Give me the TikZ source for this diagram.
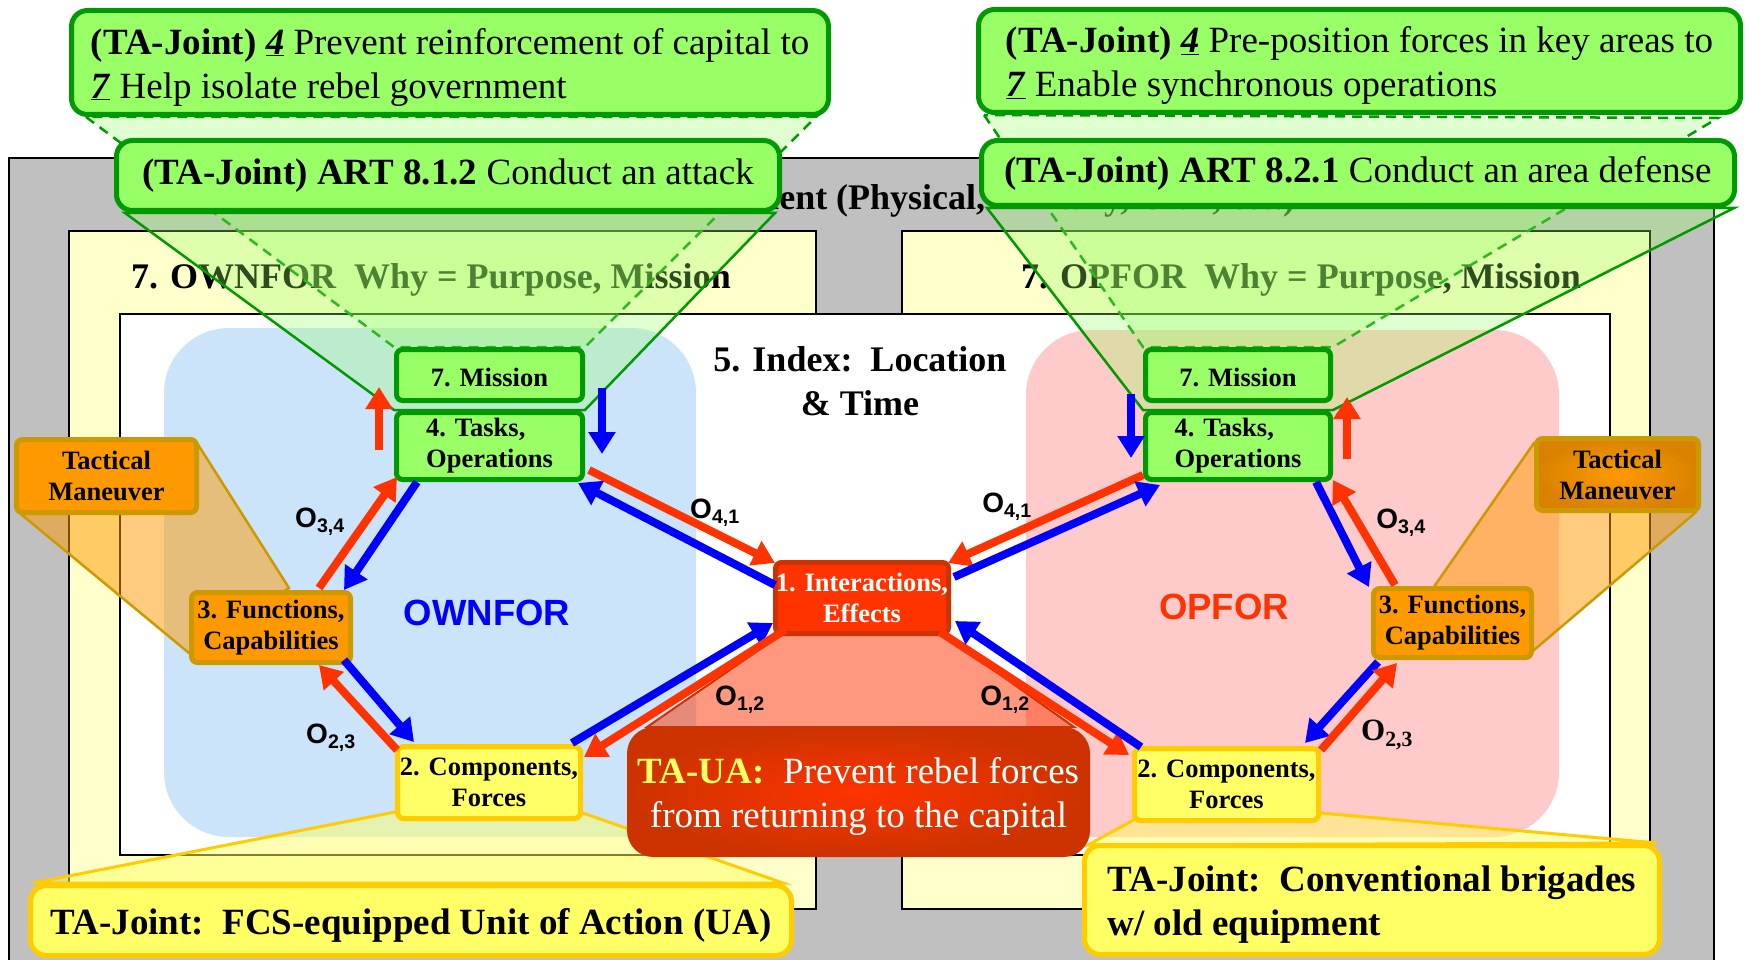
\documentclass[tikz,border=0pt]{standalone}
\usepackage{fontspec}
\setmainfont{Liberation Serif}
\setsansfont{Liberation Sans}
\usetikzlibrary{
    arrows.meta,
    calc
}
\definecolor{envgray}{HTML}{C0C0C0}
\definecolor{panelyellow}{HTML}{FFFFCC}
\definecolor{ownforblue}{HTML}{CCE4FA}
\definecolor{opforpink}{HTML}{FFCACA}
\definecolor{boxgreen}{HTML}{99FF66}
\definecolor{boxgreenline}{HTML}{009900}
\definecolor{boxorange}{HTML}{FF9900}
\definecolor{boxorangeline}{HTML}{CC9900}
\definecolor{boxorangedark}{HTML}{D98200}
\definecolor{boxyellow}{HTML}{FFFF66}
\definecolor{boxyellowline}{HTML}{FFCC00}
\definecolor{boxred}{HTML}{FF3300}
\definecolor{boxredline}{HTML}{CC3300}
\definecolor{arrowred}{HTML}{FF3300}
\definecolor{arrowblue}{HTML}{0000FF}

\newcommand{\nodetextfont}{\fontsize{26.5}{31}\selectfont\bfseries}
\newcommand{\callouttextfont}{\fontsize{37}{44}\selectfont}
\newcommand{\paneltitlefont}{\fontsize{36}{44}\selectfont\bfseries}
\newcommand{\forcefont}{\fontsize{36.5}{40}\selectfont\sffamily\bfseries}
\newcommand{\flowfont}{\fontsize{28}{30}\selectfont\sffamily\bfseries}
\newcommand{\purposenum}[1]{\underline{\textbf{\textit{#1}}}}
\newcommand{\lowerstrut}{\rule{0pt}{35.5pt}}

\pgfdeclarelayer{back}
\pgfdeclarelayer{shade}
\pgfsetlayers{back,shade,main}

\tikzset{
    % Frames
    env frame/.style={draw=black, fill=envgray, line width=1.5pt},
    panel/.style={draw=black, fill=panelyellow, line width=1.5pt},
    inner frame/.style={draw=black, fill=white, line width=1.5pt},
    %
    % Boxes
    base box/.style={rectangle, rounded corners=6pt, line width=5pt, inner sep=0pt, align=center, font=\nodetextfont},
    green box/.style={base box, draw=boxgreenline, fill=boxgreen},
    orange box/.style={base box, draw=boxorangeline, fill=boxorange},
    yellow box/.style={base box, draw=boxyellowline, fill=boxyellow},
    red box/.style={base box, draw=boxredline, fill=boxred, text=white},
    note box/.style={rounded corners=16pt, font=\callouttextfont},
    mission box/.style={green box, minimum height=51pt, text height=23.5pt, text depth=0pt},
    %
    % Projections
    green shade/.style={fill=boxgreen, fill opacity=.3, draw=boxgreenline, line width=2.5pt},
    green dash shade/.style={green shade, dash pattern=on 10pt off 7pt},
    orange shade/.style={fill=boxorange, fill opacity=.5, draw=boxorangeline, line width=2.5pt},
    yellow shade/.style={fill=boxyellow, fill opacity=.5, draw=boxyellowline, line width=3pt},
    red shade/.style={fill=boxred, fill opacity=.5, draw=boxredline, line width=2pt},
    %
    % Arrows
    arrow tip/.tip={Triangle[length=22pt, width=26pt]},
    red arr/.style={-{arrow tip}, line width=8pt, draw=arrowred},
    blue arr/.style={-{arrow tip}, line width=8pt, draw=arrowblue},
    %
    flow label/.style={font=\flowfont, inner sep=0pt}
}

\begin{document}
\begin{tikzpicture}[x=1pt, y=-1pt]
    \useasboundingbox (0,0) rectangle (1745,960);

    \begin{pgfonlayer}{back}
        \fill[white] (0,0) rectangle (1745,960);
        \draw[env frame] (9,158) rectangle (1714,975);
        \node[anchor=base, font=\paneltitlefont] (envtitle) at (940,210) {6. Environment (Physical, Military, Civil, etc.)};
        \draw[panel] (69,231) rectangle (816,909);
        \draw[panel] (902,231) rectangle (1650,909);
        \node[anchor=base, font=\paneltitlefont] (ownwhy) at (431,288) {7. OWNFOR\ \ Why = Purpose, Mission};
        \node[anchor=base, font=\paneltitlefont] (opwhy) at (1301,288) {7. OPFOR\ \ Why = Purpose, Mission};
        \draw[inner frame] (120,314) rectangle (1610,855);
        \fill[ownforblue, rounded corners=65pt] (164,328) rectangle (696,837);
        \fill[opforpink, rounded corners=65pt] (1026,330) rectangle (1559,837);
        \node[align=center, font=\paneltitlefont] (index) at (860,381) {5. Index:\ \ Location\\\& Time};
        \node[font=\forcefont, text=arrowblue] (ownfor) at (487,613) {OWNFOR};
        \node[font=\forcefont, text=arrowred] (opfor) at (1224,607) {OPFOR};
    \end{pgfonlayer}

    % OWNFOR loop
    \node[mission box, minimum width=186pt] (m1) at (489.5,375) {7. Mission};
    \node[green box, minimum width=186pt, minimum height=67pt, align=left] (t1) at (489.5,446) {4. Tasks,\\Operations};
    \node[orange box, minimum width=159pt, minimum height=70pt] (f1) at (271,627.5) {3. Functions,\\Capabilities};
    \node[yellow box, minimum width=183pt, minimum height=72pt] (c1) at (489,782.5) {2. Components,\\Forces};
    \node[orange box, minimum width=180pt, minimum height=73pt] (tm1) at (106.5,476) {Tactical\\Maneuver};

    % OPFOR loop
    \node[mission box, minimum width=185pt] (m2) at (1238,375) {7. Mission};
    \node[green box, minimum width=185pt, minimum height=67pt, align=left] (t2) at (1238,446) {4. Tasks,\\Operations};
    \node[orange box, minimum width=158pt, minimum height=69pt] (f2) at (1452.5,623) {3. Functions,\\Capabilities};
    \node[yellow box, minimum width=184pt, minimum height=72pt] (c2) at (1226.5,784.5) {2. Components,\\Forces};
    \node[orange box, inner color=boxorange, outer color=boxorangedark, minimum width=162pt, minimum height=72pt] (tm2) at (1617.5,474.5) {Tactical\\Maneuver};

    % interactions
    \node[red box, minimum width=173pt, minimum height=71pt] (ie) at (862,598) {1. Interactions,\\Effects};

    % callouts
    \node[green box, note box, minimum width=757pt, minimum height=104pt, align=left] (g1) at (450,62.5)
        {\lowerstrut\textbf{(TA-Joint)} \purposenum{4} Prevent reinforcement of capital to\\\purposenum{7} Help isolate rebel government};
    \node[green box, note box, minimum width=663pt, minimum height=70pt] (a1) at (448,175.5)
        {\textbf{(TA-Joint) ART 8.1.2} Conduct an attack};
    \node[green box, note box, minimum width=762pt, minimum height=103pt, align=left] (g2) at (1359.5,61)
        {\lowerstrut\textbf{(TA-Joint)} \purposenum{4} Pre-position forces in key areas to\\\purposenum{7} Enable synchronous operations};
    \node[green box, note box, minimum width=753pt, minimum height=65pt] (a2) at (1358,173)
        {\textbf{(TA-Joint) ART 8.2.1} Conduct an area defense};
    \node[yellow box, note box, font=\callouttextfont\bfseries, minimum width=761pt, minimum height=70pt] (j1) at (411,920.5)
        {\lowerstrut TA-Joint:\ \ FCS-equipped Unit of Action (UA)};
    \node[yellow box, note box, font=\callouttextfont\bfseries, minimum width=575pt, minimum height=109pt, align=left] (j2) at (1372,900)
        {\lowerstrut TA-Joint:\ \ Conventional brigades\\w/ old equipment};
    \node[red box, note box, rounded corners=25pt, line width=3pt, inner color=boxred, outer color=boxredline, minimum width=460pt, minimum height=127pt] (ua) at (858.5,792)
        {\lowerstrut\textcolor{boxyellow}{\textbf{TA-UA:}}\ \ Prevent rebel forces\\from returning to the capital};

    \begin{pgfonlayer}{shade}
        % purpose and task projections
        \path[green dash shade] ($(g1.south west)+(17,0)$) -- (m1.north west) -- (m1.north east) -- ($(g1.south east)+(-15,0)$) -- cycle;
        \path[green shade] ($(a1.south west)+(11,0)$) -- (t1.north west) -- (t1.north east) -- ($(a1.south east)+(-7,0)$) -- cycle;
        \path[green dash shade] ($(g2.south west)+(8,0)$) -- (m2.north west) -- (m2.north east) -- ($(g2.south east)+(-25,3)$) -- cycle;
        \path[green shade] ($(a2.south west)+(8,0)$) -- (t2.north west) -- (t2.north east) -- ($(a2.south east)+(-3,0)$) -- cycle;
        % functions
        \path[orange shade] ($(tm1.south west)+(8,0)$) -- ($(tm1.north east)+(-2,6)$) -- ($(f1.north)+(18,-2)$) -- ($(f1.south west)+(0,-12)$) -- cycle;
        \path[orange shade] ($(tm2.north west)+(0,7)$) -- ($(f2.north)+(-18,0)$) -- ($(f2.south east)+(0,-10)$) -- ($(tm2.south east)+(-6,0)$) -- cycle;
        % components
        \path[yellow shade] ($(c1.south west)+(0,-9)$) -- ($(j1.north west)+(5,0)$) -- ($(j1.north east)+(-11,0)$) -- ($(c1.south east)+(0,-8)$) -- cycle;
        \path[yellow shade] ($(c2.south west)+(5,-5)$) -- ($(j2.north west)+(6,2)$) -- ($(j2.north east)+(-5,0)$) -- ($(c2.south east)+(0,-10)$) -- cycle;
        % interactions
        \path[red shade] ($(ie.south west)+(12,-4)$) -- ($(ua.north west)+(20,0)$) -- ($(ua.north east)+(-16,0)$) -- ($(ie.south east)+(-11,-4)$) -- cycle;
    \end{pgfonlayer}

    % OWNFOR arrows
    \draw[red arr] ($(f1.north)+(48,-2)$) -- ($(t1.south west)+(3,-5)$);
    \draw[blue arr] ($(t1.south west)+(23,0)$) -- ($(f1.north east)+(-9,0)$);
    \draw[red arr] ($(t1.south east)+(4,-12)$) -- ($(ie.north west)+(2,3)$);
    \draw[blue arr] ($(ie.west)+(2,-13)$) -- ($(t1.south east)+(-7,1)$);
    \draw[blue arr] ($(c1.north east)+(-11,-1)$) -- ($(ie.south west)+(0,-13)$);
    \draw[red arr] ($(ie.south west)+(12,-6)$) -- ($(c1.north east)+(1,13)$);
    \draw[red arr] ($(c1.north west)+(2,6)$) -- ($(f1.south)+(48,0)$);
    \draw[blue arr] ($(f1.south east)+(-9,-5)$) -- ($(c1.north west)+(19,-2)$);
    \draw[red arr] ($(t1.west)+(-15,4)$) -- ($(m1.west)+(-15,12)$);
    \draw[blue arr] ($(m1.east)+(17,13)$) -- ($(t1.east)+(17,8)$);

    % OPFOR arrows
    \draw[red arr] ($(t2.south west)+(0,-7)$) -- ($(ie.north east)+(-3,3)$);
    \draw[blue arr] ($(ie.east)+(3,-21)$) -- ($(t2.south west)+(17,3)$);
    \draw[blue arr] ($(t2.south east)+(-17,0)$) -- ($(f2.north west)+(-2,1)$);
    \draw[red arr] ($(f2.north west)+(24,-1)$) -- ($(t2.south east)+(0,-2)$);
    \draw[blue arr] ($(f2.south west)+(7,2)$) -- ($(c2.north east)+(-16,-3)$);
    \draw[red arr] ($(c2.north east)+(0,4)$) -- ($(f2.south west)+(26,3)$);
    \draw[red arr] ($(ie.south east)+(-11,-4)$) -- ($(c2.north west)+(-3,9)$);
    \draw[blue arr] ($(c2.north west)+(9,1)$) -- ($(ie.south east)+(4,-15)$);
    \draw[blue arr] ($(m2.west)+(-12,19)$) -- ($(t2.west)+(-12,12)$);
    \draw[red arr] ($(t2.east)+(14,13)$) -- ($(m2.east)+(14,22)$);

    % flow labels
    \node[flow label] (o34a) at (320,522) {O\textsubscript{3,4}};
    \node[flow label] (o41a) at (715,513) {O\textsubscript{4,1}};
    \node[flow label] (o23a) at (331,738) {O\textsubscript{2,3}};
    \node[flow label] (o12a) at (740,700) {O\textsubscript{1,2}};
    \node[flow label] (o41b) at (1007,507) {O\textsubscript{4,1}};
    \node[flow label] (o12b) at (1005,700) {O\textsubscript{1,2}};
    \node[flow label] (o34b) at (1401,523) {O\textsubscript{3,4}};
    \node[flow label, font=\fontsize{31}{32}\selectfont\rmfamily\bfseries] (o23b) at (1387,735) {O\textsubscript{2,3}};
\end{tikzpicture}
\end{document}
